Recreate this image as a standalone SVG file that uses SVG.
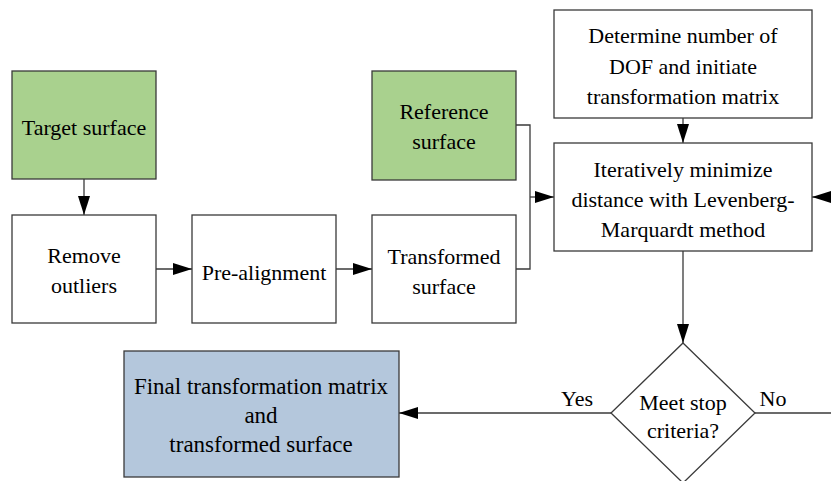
<svg xmlns="http://www.w3.org/2000/svg" width="831" height="481" viewBox="0 0 831 481">
<defs>
<marker id="ah" markerUnits="userSpaceOnUse" markerWidth="20" markerHeight="12" refX="19" refY="6" orient="auto">
<path d="M0,0 L19,6 L0,12 Z" fill="#000"/>
</marker>
<style>
.box{stroke:#3a3a3a;stroke-width:1.3;fill:#fff}
.green{fill:#a9d18e}
.blue{fill:#b4c7dc}
.c{fill:none;stroke:#3a3a3a;stroke-width:1.3}
.a{marker-end:url(#ah)}
</style>
</defs>
<rect width="831" height="481" fill="#fff"/>
<g id="connectors">
<line class="c a" x1="84" y1="179" x2="84" y2="215"/>
<line class="c a" x1="156" y1="269" x2="192" y2="269"/>
<line class="c a" x1="336" y1="269" x2="372" y2="269"/>
<polyline class="c" points="516,125 530,125 530,269 516,269"/>
<line class="c a" x1="530" y1="197" x2="554" y2="197"/>
<line class="c a" x1="683" y1="118" x2="683" y2="143"/>
<line class="c a" x1="683" y1="251" x2="683" y2="343"/>
<line class="c a" x1="611" y1="413" x2="399" y2="413"/>
<line class="c" x1="755" y1="413" x2="831" y2="413"/>
<line class="c a" x1="835" y1="197" x2="812" y2="197"/>
</g>
<g id="labels" font-family="Times New Roman" font-size="22" text-anchor="middle">
<text x="577" y="406">Yes</text>
<text x="773" y="406">No</text>
</g>
<g id="target" font-family="Times New Roman" font-size="22" text-anchor="middle">
<rect class="box green" x="12" y="71" width="144" height="108"/>
<text x="84" y="135">Target surface</text>
</g>
<g id="remove" font-family="Times New Roman" font-size="22" text-anchor="middle">
<rect class="box" x="12" y="215" width="144" height="108"/>
<text x="84" y="263">Remove</text>
<text x="84" y="293">outliers</text>
</g>
<g id="prealign" font-family="Times New Roman" font-size="22" text-anchor="middle">
<rect class="box" x="192" y="215" width="144" height="108"/>
<text x="264" y="280">Pre-alignment</text>
</g>
<g id="reference" font-family="Times New Roman" font-size="22" text-anchor="middle">
<rect class="box green" x="372" y="71" width="144" height="109"/>
<text x="444" y="119">Reference</text>
<text x="444" y="149">surface</text>
</g>
<g id="transformed" font-family="Times New Roman" font-size="22" text-anchor="middle">
<rect class="box" x="372" y="215" width="144" height="108"/>
<text x="444" y="264">Transformed</text>
<text x="444" y="294">surface</text>
</g>
<g id="determine" font-family="Times New Roman" font-size="22" text-anchor="middle">
<rect class="box" x="554" y="10" width="258" height="108"/>
<text x="683" y="43">Determine number of</text>
<text x="683" y="74">DOF and initiate</text>
<text x="683" y="104">transformation matrix</text>
</g>
<g id="iterate" font-family="Times New Roman" font-size="22" text-anchor="middle">
<rect class="box" x="554" y="143" width="258" height="108"/>
<text x="683" y="177">Iteratively minimize</text>
<text x="683" y="207">distance with Levenberg-</text>
<text x="683" y="237">Marquardt method</text>
</g>
<g id="decision" font-family="Times New Roman" font-size="22" text-anchor="middle">
<polygon class="box" points="683,343 755,413 683,483 611,413"/>
<text x="683" y="410">Meet stop</text>
<text x="683" y="438">criteria?</text>
</g>
<g id="final" font-family="Times New Roman" font-size="23" text-anchor="middle">
<rect class="box blue" x="124" y="351" width="275" height="126"/>
<text x="261" y="394">Final transformation matrix</text>
<text x="261" y="423">and</text>
<text x="261" y="452">transformed surface</text>
</g>
</svg>
